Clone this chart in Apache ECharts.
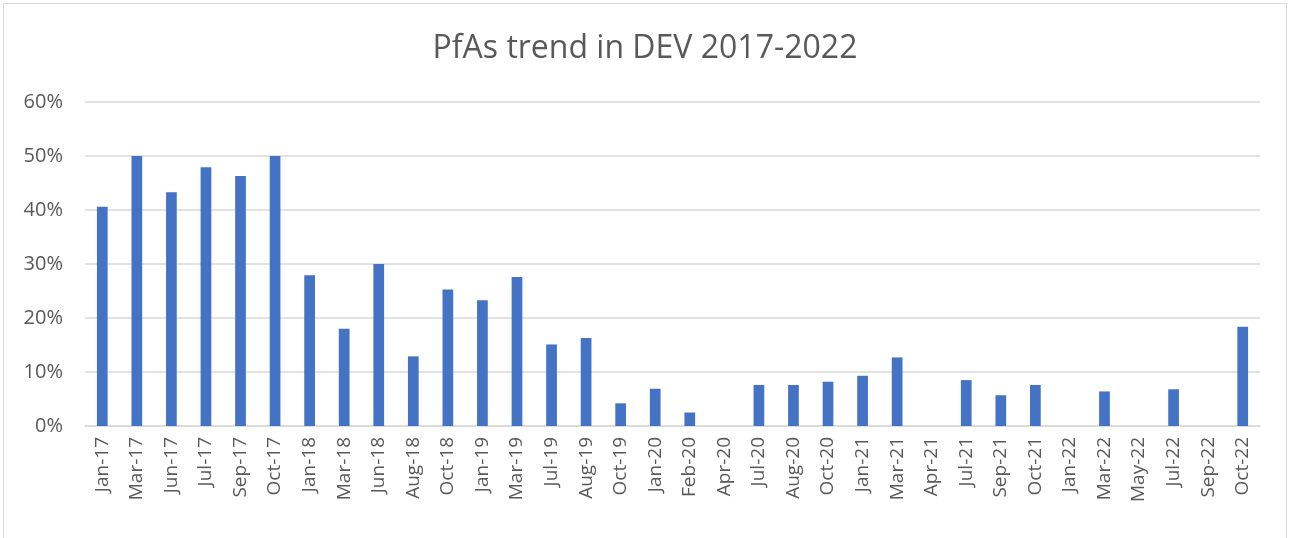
<!DOCTYPE html>
<html>
<head>
<meta charset="utf-8">
<script src="https://cdn.jsdelivr.net/npm/echarts@6/dist/echarts.min.js"></script>
<style>
  html, body { margin: 0; padding: 0; background: #fff; }
  #frame { position: absolute; left: 3px; top: 3px; width: 1284px; height: 560px; border: 1.5px solid #d9d9d9; box-sizing: border-box; }
  #chart { position: absolute; left: 0; top: 0; width: 1290px; height: 538px; }
</style>
</head>
<body>
<div id="frame"></div>
<div id="chart"></div>
<script>
const titleText = 'PfAs trend in DEV 2017-2022';

const months = [
  'Jan-17', 'Mar-17', 'Jun-17', 'Jul-17', 'Sep-17', 'Oct-17',
  'Jan-18', 'Mar-18', 'Jun-18', 'Aug-18', 'Oct-18',
  'Jan-19', 'Mar-19', 'Jul-19', 'Aug-19', 'Oct-19',
  'Jan-20', 'Feb-20', 'Apr-20', 'Jul-20', 'Aug-20', 'Oct-20',
  'Jan-21', 'Mar-21', 'Apr-21', 'Jul-21', 'Sep-21', 'Oct-21',
  'Jan-22', 'Mar-22', 'May-22', 'Jul-22', 'Sep-22', 'Oct-22'
];

// share of PfAs, in percent
const pfaShare = [
  40.6, 50, 43.3, 47.9, 46.3, 50,
  27.9, 18.0, 30, 12.9, 25.3,
  23.3, 27.6, 15.1, 16.3, 4.2,
  6.9, 2.5, 0, 7.6, 7.6, 8.2,
  9.3, 12.7, 0, 8.5, 5.7, 7.6,
  0, 6.4, 0, 6.8, 0, 18.4
];

const yMin = 0;
const yMax = 60;
const yStep = 10;

const chart = echarts.init(document.getElementById('chart'));

chart.setOption({
  animation: false,
  title: {
    text: titleText,
    left: 'center',
    top: 28,
    textStyle: {
      fontFamily: 'Open Sans',
      fontWeight: 'normal',
      fontSize: 32,
      color: '#595959',
    },
  },
  grid: {
    left: 85,
    right: 30,
    top: 102,
    bottom: 112,
  },
  xAxis: {
    type: 'category',
    data: months,
    axisTick: { show: false },
    axisLine: { lineStyle: { color: '#d9d9d9', width: 1.5 } },
    axisLabel: {
      rotate: 90,
      interval: 0,
      margin: 11,
      color: '#595959',
      fontFamily: 'Open Sans',
      fontSize: 19,
    },
  },
  yAxis: {
    type: 'value',
    min: yMin,
    max: yMax,
    interval: yStep,
    axisTick: { show: false },
    axisLine: { show: false },
    axisLabel: {
      formatter: '{value}%',
      margin: 22,
      color: '#595959',
      fontFamily: 'Open Sans',
      fontSize: 20,
    },
    splitLine: {
      lineStyle: { color: '#d9d9d9', width: 1.5 },
    },
  },
  series: [
    {
      type: 'bar',
      data: pfaShare,
      barWidth: '31%',
      itemStyle: { color: '#4472c4' },
    },
  ],
});
</script>
</body>
</html>
